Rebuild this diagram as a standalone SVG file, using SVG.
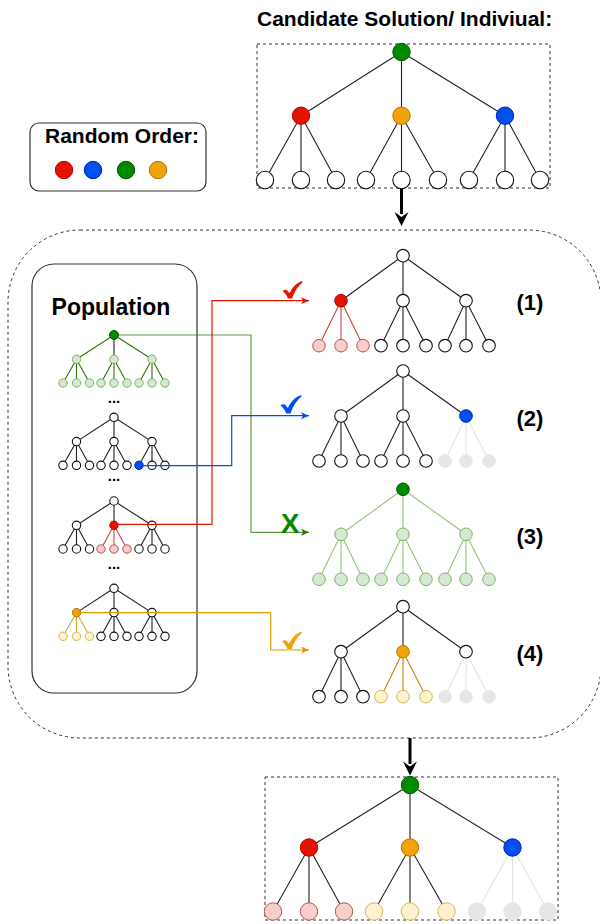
<svg xmlns="http://www.w3.org/2000/svg" width="600" height="924" viewBox="0 0 600 924">
  <defs>
    <style>
      text{font-family:"Liberation Sans",Arial,sans-serif;font-weight:bold;fill:#000}
      .frame{fill:none;stroke:#333;stroke-width:1;stroke-dasharray:3 3}
      .box{fill:#fff;stroke:#333;stroke-width:1.2}
      .e{fill:none;stroke:#222;stroke-width:1.1}
      .e-red{fill:none;stroke:#cc4444;stroke-width:1.1}
      .e-grn{fill:none;stroke:#2d7600;stroke-width:1.1}
      .e-lgr{fill:none;stroke:#97c27d;stroke-width:1.1}
      .e-gry{fill:none;stroke:#e3e3e3;stroke-width:1.1}
      .e-org{fill:none;stroke:#c8870a;stroke-width:1.1}
      .e-yel{fill:none;stroke:#c9a83a;stroke-width:1.1}
      .w{fill:#fff;stroke:#111;stroke-width:1.1}
      .red{fill:#e51400;stroke:#b20000}
      .blu{fill:#0050ef;stroke:#001dbc}
      .grn{fill:#008a00;stroke:#005700}
      .org{fill:#f0a30a;stroke:#bd7000}
      .pnk{fill:#f8cecc;stroke:#b85450}
      .lgn{fill:#d5e8d4;stroke:#82b366}
      .ylw{fill:#fff2cc;stroke:#d6b656}
      .gry{fill:#e6e6e6;stroke:#e6e6e6}
      .link{fill:none;stroke-width:1.2}
      .big{fill:none;stroke:#000;stroke-width:3}
      .lbl{font-size:22px;text-anchor:middle}
    </style>
    <marker id="ah-red" viewBox="0 0 8 7" refX="8" refY="3.5" markerWidth="8" markerHeight="7" markerUnits="userSpaceOnUse" orient="auto"><path d="M0,0 L8,3.5 L0,7 L2,3.5 Z" fill="#e51400"/></marker>
    <marker id="ah-grn" viewBox="0 0 8 7" refX="8" refY="3.5" markerWidth="8" markerHeight="7" markerUnits="userSpaceOnUse" orient="auto"><path d="M0,0 L8,3.5 L0,7 L2,3.5 Z" fill="#2d7600"/></marker>
    <marker id="ah-blu" viewBox="0 0 8 7" refX="8" refY="3.5" markerWidth="8" markerHeight="7" markerUnits="userSpaceOnUse" orient="auto"><path d="M0,0 L8,3.5 L0,7 L2,3.5 Z" fill="#0050ef"/></marker>
    <marker id="ah-org" viewBox="0 0 8 7" refX="8" refY="3.5" markerWidth="8" markerHeight="7" markerUnits="userSpaceOnUse" orient="auto"><path d="M0,0 L8,3.5 L0,7 L2,3.5 Z" fill="#d79b00"/></marker>
    <symbol id="tick" viewBox="0 0 20 18">
      <path d="M0,10 C1.8,8.4 3.6,8.2 5,9.8 L7,12.2 C10,6 14,2 19.6,0 L20,1.4 C15.5,5 12,10 9.6,17.6 L5.4,17.6 C4.4,14.4 2.4,11.8 0,10 Z"/>
    </symbol>
  </defs>

  <!-- outer frames -->
  <rect class="frame" x="8" y="230" width="593" height="508" rx="72"/>
  <rect class="frame" x="257" y="44" width="293" height="144"/>
  <rect class="frame" x="265" y="777" width="293" height="143"/>

  <!-- candidate solution -->
  <g id="candidate">
    <text x="257" y="26" font-size="21">Candidate Solution/ Indiviual:</text>
    <path class="e" d="M401.5,52 L301,115.7 M401.5,52 L401.5,115.7 M401.5,52 L505,115.7
      M301,115.7 L265,180 M301,115.7 L301,180 M301,115.7 L336,180
      M401.5,115.7 L366,180 M401.5,115.7 L401.5,180 M401.5,115.7 L438,180
      M505,115.7 L469,180 M505,115.7 L505,180 M505,115.7 L540,180"/>
    <circle class="grn" cx="401.5" cy="52" r="8.7"/>
    <circle class="red" cx="301" cy="115.7" r="8.7"/>
    <circle class="org" cx="401.5" cy="115.7" r="8.7"/>
    <circle class="blu" cx="505" cy="115.7" r="8.7"/>
    <g class="w">
      <circle cx="265" cy="180" r="8.7"/><circle cx="301" cy="180" r="8.7"/><circle cx="336" cy="180" r="8.7"/>
      <circle cx="366" cy="180" r="8.7"/><circle cx="401.5" cy="180" r="8.7"/><circle cx="438" cy="180" r="8.7"/>
      <circle cx="469" cy="180" r="8.7"/><circle cx="505" cy="180" r="8.7"/><circle cx="540" cy="180" r="8.7"/>
    </g>
  </g>

  <!-- random order legend -->
  <g id="random-order">
    <rect class="box" x="30" y="123" width="176" height="68" rx="9"/>
    <text x="45" y="143" font-size="21">Random Order:</text>
    <circle class="red" cx="64" cy="170" r="8.7"/>
    <circle class="blu" cx="93" cy="170" r="8.7"/>
    <circle class="grn" cx="126" cy="170" r="8.7"/>
    <circle class="org" cx="158" cy="170" r="8.7"/>
  </g>

  <!-- population -->
  <g id="population">
    <rect class="box" x="32" y="264" width="165" height="429" rx="22"/>
    <text x="111" y="315" font-size="23" text-anchor="middle">Population</text>
    <text x="114" y="403" font-size="15" text-anchor="middle">...</text>
    <text x="114" y="481" font-size="15" text-anchor="middle">...</text>
    <text x="114" y="569" font-size="15" text-anchor="middle">...</text>

    <!-- individual A: green root -->
    <g id="pop-a" transform="translate(114,335)">
      <path class="e-grn" d="M0,0 L-37.5,24.3 M0,0 L38,24.3
        M-37.5,24.3 L-51,48 M-37.5,24.3 L-37.5,48 M-37.5,24.3 L-24.5,48
        M0,24.3 L-13,48 M0,24.3 L0,48 M0,24.3 L13,48
        M38,24.3 L25,48 M38,24.3 L38,48 M38,24.3 L51,48"/>
      <path class="e" d="M0,0 L0,24.3"/>
      <g class="lgn">
        <circle cx="-37.5" cy="24.3" r="4.2"/><circle cx="0" cy="24.3" r="4.2"/><circle cx="38" cy="24.3" r="4.2"/>
        <circle cx="-51" cy="48" r="4.2"/><circle cx="-37.5" cy="48" r="4.2"/><circle cx="-24.5" cy="48" r="4.2"/>
        <circle cx="-13" cy="48" r="4.2"/><circle cx="0" cy="48" r="4.2"/><circle cx="13" cy="48" r="4.2"/>
        <circle cx="25" cy="48" r="4.2"/><circle cx="38" cy="48" r="4.2"/><circle cx="51" cy="48" r="4.2"/>
      </g>
      <circle class="grn" cx="0" cy="0" r="4.5"/>
    </g>

    <!-- individual B: blue leaf -->
    <g id="pop-b" transform="translate(114,417.3)">
      <path class="e" d="M0,0 L-37.5,24.3 M0,0 L0,24.3 M0,0 L38,24.3
        M-37.5,24.3 L-51,48 M-37.5,24.3 L-37.5,48 M-37.5,24.3 L-24.5,48
        M0,24.3 L-13,48 M0,24.3 L0,48 M0,24.3 L13,48
        M38,24.3 L25,48 M38,24.3 L38,48 M38,24.3 L51,48"/>
      <g class="w">
        <circle cx="0" cy="0" r="4.2"/>
        <circle cx="-37.5" cy="24.3" r="4.2"/><circle cx="0" cy="24.3" r="4.2"/><circle cx="38" cy="24.3" r="4.2"/>
        <circle cx="-51" cy="48" r="4.2"/><circle cx="-37.5" cy="48" r="4.2"/><circle cx="-24.5" cy="48" r="4.2"/>
        <circle cx="-13" cy="48" r="4.2"/><circle cx="0" cy="48" r="4.2"/><circle cx="13" cy="48" r="4.2"/>
        <circle cx="38" cy="48" r="4.2"/><circle cx="51" cy="48" r="4.2"/>
      </g>
      <circle class="blu" cx="25" cy="48" r="4.2"/>
    </g>

    <!-- individual C: red subtree -->
    <g id="pop-c" transform="translate(114,501)">
      <path class="e" d="M0,0 L-37.5,24.3 M0,0 L0,24.3 M0,0 L38,24.3
        M-37.5,24.3 L-51,48 M-37.5,24.3 L-37.5,48 M-37.5,24.3 L-24.5,48
        M38,24.3 L25,48 M38,24.3 L38,48 M38,24.3 L51,48"/>
      <path class="e-red" d="M0,24.3 L-13,48 M0,24.3 L0,48 M0,24.3 L13,48"/>
      <g class="w">
        <circle cx="0" cy="0" r="4.2"/>
        <circle cx="-37.5" cy="24.3" r="4.2"/><circle cx="38" cy="24.3" r="4.2"/>
        <circle cx="-51" cy="48" r="4.2"/><circle cx="-37.5" cy="48" r="4.2"/><circle cx="-24.5" cy="48" r="4.2"/>
        <circle cx="25" cy="48" r="4.2"/><circle cx="38" cy="48" r="4.2"/><circle cx="51" cy="48" r="4.2"/>
      </g>
      <g class="pnk">
        <circle cx="-13" cy="48" r="4.2"/><circle cx="0" cy="48" r="4.2"/><circle cx="13" cy="48" r="4.2"/>
      </g>
      <circle class="red" cx="0" cy="24.3" r="4.2"/>
    </g>

    <!-- individual D: orange subtree -->
    <g id="pop-d" transform="translate(114,588.3)">
      <path class="e" d="M0,0 L-37.5,24.3 M0,0 L0,24.3 M0,0 L38,24.3
        M0,24.3 L-13,48 M0,24.3 L0,48 M0,24.3 L13,48
        M38,24.3 L25,48 M38,24.3 L38,48 M38,24.3 L51,48"/>
      <path class="e-yel" d="M-37.5,24.3 L-51,48 M-37.5,24.3 L-37.5,48 M-37.5,24.3 L-24.5,48"/>
      <g class="w">
        <circle cx="0" cy="0" r="4.2"/>
        <circle cx="0" cy="24.3" r="4.2"/><circle cx="38" cy="24.3" r="4.2"/>
        <circle cx="-13" cy="48" r="4.2"/><circle cx="0" cy="48" r="4.2"/><circle cx="13" cy="48" r="4.2"/>
        <circle cx="25" cy="48" r="4.2"/><circle cx="38" cy="48" r="4.2"/><circle cx="51" cy="48" r="4.2"/>
      </g>
      <g class="ylw">
        <circle cx="-51" cy="48" r="4.2"/><circle cx="-37.5" cy="48" r="4.2"/><circle cx="-24.5" cy="48" r="4.2"/>
      </g>
      <circle class="org" cx="-37.5" cy="24.3" r="4.2"/>
    </g>
  </g>

  <!-- step 1 -->
  <g id="step-1" transform="translate(403,255.7)">
    <path class="e" d="M0,0 L-62,45 M0,0 L0,45 M0,0 L63,45
      M0,45 L-22,90 M0,45 L0,90 M0,45 L23,90
      M63,45 L42,90 M63,45 L63,90 M63,45 L86,90"/>
    <path class="e-red" d="M-62,45 L-84,90 M-62,45 L-62,90 M-62,45 L-40,90"/>
    <g class="w">
      <circle cx="0" cy="0" r="6.3"/>
      <circle cx="0" cy="45" r="6.3"/><circle cx="63" cy="45" r="6.3"/>
      <circle cx="-22" cy="90" r="6.3"/><circle cx="0" cy="90" r="6.3"/><circle cx="23" cy="90" r="6.3"/>
      <circle cx="42" cy="90" r="6.3"/><circle cx="63" cy="90" r="6.3"/><circle cx="86" cy="90" r="6.3"/>
    </g>
    <g class="pnk">
      <circle cx="-84" cy="90" r="6.3"/><circle cx="-62" cy="90" r="6.3"/><circle cx="-40" cy="90" r="6.3"/>
    </g>
    <circle class="red" cx="-62" cy="45" r="6.3"/>
    <text class="lbl" x="127" y="54">(1)</text>
  </g>

  <!-- step 2 -->
  <g id="step-2" transform="translate(403,371)">
    <path class="e" d="M0,0 L-62,45 M0,0 L0,45 M0,0 L63,45
      M-62,45 L-84,90 M-62,45 L-62,90 M-62,45 L-40,90
      M0,45 L-22,90 M0,45 L0,90 M0,45 L23,90"/>
    <path class="e-gry" d="M63,45 L42,90 M63,45 L63,90 M63,45 L86,90"/>
    <g class="w">
      <circle cx="0" cy="0" r="6.3"/>
      <circle cx="-62" cy="45" r="6.3"/><circle cx="0" cy="45" r="6.3"/>
      <circle cx="-84" cy="90" r="6.3"/><circle cx="-62" cy="90" r="6.3"/><circle cx="-40" cy="90" r="6.3"/>
      <circle cx="-22" cy="90" r="6.3"/><circle cx="0" cy="90" r="6.3"/><circle cx="23" cy="90" r="6.3"/>
    </g>
    <g class="gry">
      <circle cx="42" cy="90" r="6.3"/><circle cx="63" cy="90" r="6.3"/><circle cx="86" cy="90" r="6.3"/>
    </g>
    <circle class="blu" cx="63" cy="45" r="6.3"/>
    <text class="lbl" x="127" y="55">(2)</text>
  </g>

  <!-- step 3 -->
  <g id="step-3" transform="translate(403,489.3)">
    <path class="e-lgr" d="M0,0 L-62,45 M0,0 L0,45 M0,0 L63,45
      M-62,45 L-84,90 M-62,45 L-62,90 M-62,45 L-40,90
      M0,45 L-22,90 M0,45 L0,90 M0,45 L23,90
      M63,45 L42,90 M63,45 L63,90 M63,45 L86,90"/>
    <g class="lgn">
      <circle cx="-62" cy="45" r="6.3"/><circle cx="0" cy="45" r="6.3"/><circle cx="63" cy="45" r="6.3"/>
      <circle cx="-84" cy="90" r="6.3"/><circle cx="-62" cy="90" r="6.3"/><circle cx="-40" cy="90" r="6.3"/>
      <circle cx="-22" cy="90" r="6.3"/><circle cx="0" cy="90" r="6.3"/><circle cx="23" cy="90" r="6.3"/>
      <circle cx="42" cy="90" r="6.3"/><circle cx="63" cy="90" r="6.3"/><circle cx="86" cy="90" r="6.3"/>
    </g>
    <circle class="grn" cx="0" cy="0" r="6.3"/>
    <text class="lbl" x="127" y="55">(3)</text>
  </g>

  <!-- step 4 -->
  <g id="step-4" transform="translate(403,606.7)">
    <path class="e" d="M0,0 L-62,45 M0,0 L0,45 M0,0 L63,45
      M-62,45 L-84,90 M-62,45 L-62,90 M-62,45 L-40,90"/>
    <path class="e-org" d="M0,45 L-22,90 M0,45 L0,90 M0,45 L23,90"/>
    <path class="e-gry" d="M63,45 L42,90 M63,45 L63,90 M63,45 L86,90"/>
    <g class="w">
      <circle cx="0" cy="0" r="6.3"/>
      <circle cx="-62" cy="45" r="6.3"/><circle cx="63" cy="45" r="6.3"/>
      <circle cx="-84" cy="90" r="6.3"/><circle cx="-62" cy="90" r="6.3"/><circle cx="-40" cy="90" r="6.3"/>
    </g>
    <g class="ylw">
      <circle cx="-22" cy="90" r="6.3"/><circle cx="0" cy="90" r="6.3"/><circle cx="23" cy="90" r="6.3"/>
    </g>
    <g class="gry">
      <circle cx="42" cy="90" r="6.3"/><circle cx="63" cy="90" r="6.3"/><circle cx="86" cy="90" r="6.3"/>
    </g>
    <circle class="org" cx="0" cy="45" r="6.3"/>
    <text class="lbl" x="127" y="54">(4)</text>
  </g>

  <!-- resulting individual -->
  <g id="result">
    <path class="e" d="M410,785 L309,847.5 M410,785 L410,847.5 M410,785 L512.5,847.5
      M309,847.5 L273,911.5 M309,847.5 L309,911.5 M309,847.5 L344,911.5
      M410,847.5 L374,911.5 M410,847.5 L410,911.5 M410,847.5 L446.5,911.5"/>
    <path class="e-gry" d="M512.5,847.5 L477,911.5 M512.5,847.5 L512.5,911.5 M512.5,847.5 L548,911.5"/>
    <circle class="grn" cx="410" cy="785" r="8.7"/>
    <circle class="red" cx="309" cy="847.5" r="8.7"/>
    <circle class="org" cx="410" cy="847.5" r="8.7"/>
    <circle class="blu" cx="512.5" cy="847.5" r="8.7"/>
    <g class="pnk"><circle cx="273" cy="911.5" r="8.7"/><circle cx="309" cy="911.5" r="8.7"/><circle cx="344" cy="911.5" r="8.7"/></g>
    <g class="ylw"><circle cx="374" cy="911.5" r="8.7"/><circle cx="410" cy="911.5" r="8.7"/><circle cx="446.5" cy="911.5" r="8.7"/></g>
    <g class="gry"><circle cx="477" cy="911.5" r="8.7"/><circle cx="512.5" cy="911.5" r="8.7"/><circle cx="548" cy="911.5" r="8.7"/></g>
  </g>

  <!-- connectors -->
  <g id="connectors">
    <path class="big" d="M401.5,189 V214"/>
    <path d="M394.5,212 L401.5,217 L408.5,212 L401.5,226 Z" fill="#000"/>
    <path class="big" d="M410,738 V764"/>
    <path d="M403,761.5 L410,766.5 L417,761.5 L410,775.5 Z" fill="#000"/>

    <path class="link" stroke="#e51400" d="M114,524.3 H212 V300.7 H309" marker-end="url(#ah-red)"/>
    <path class="link" stroke="#2d7600" stroke-opacity="0.75" d="M114,335 H251 V532.3 H309" marker-end="url(#ah-grn)"/>
    <path class="link" stroke="#0050ef" d="M139,465.7 H231.7 V415.7 H309" marker-end="url(#ah-blu)"/>
    <path class="link" stroke="#d79b00" d="M76.5,612.6 H270.7 V650 H309" marker-end="url(#ah-org)"/>

    <use href="#tick" x="282" y="281" width="21" height="18" fill="#e51400"/>
    <use href="#tick" x="280" y="395" width="22" height="19" fill="#0050ef"/>
    <use href="#tick" x="282" y="631" width="20" height="19" fill="#f0a30a"/>
    <text x="290" y="532.5" font-size="28" text-anchor="middle" style="fill:#008a00">X</text>
  </g>
</svg>
